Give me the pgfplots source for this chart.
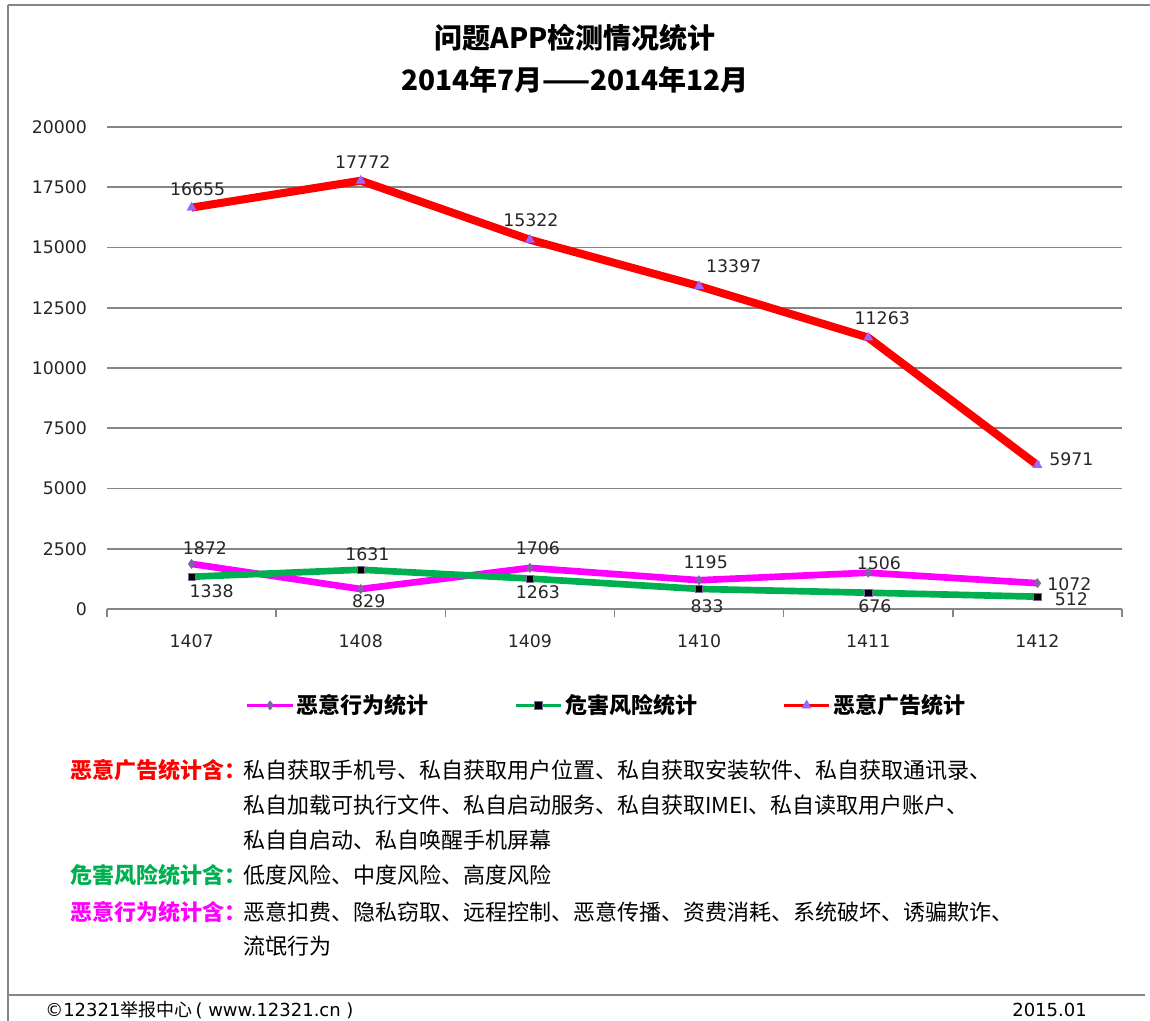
\documentclass[border=0pt]{standalone}
\usepackage{fontspec}
\usepackage{pgfplots}
\usepackage{pgfplotstable}
\pgfplotsset{compat=1.18}
\setmainfont{DejaVu Sans}
\newfontfamily\cjk{Noto Sans CJK SC}
\definecolor{gridgray}{RGB}{134,134,134}
\definecolor{mymag}{RGB}{255,0,255}
\definecolor{mygreen}{RGB}{0,176,80}
\definecolor{myred}{RGB}{255,0,0}
\definecolor{mkpurple}{RGB}{128,100,162}
\definecolor{tri}{RGB}{153,102,255}

\pgfplotstableread{
x y dx dy
0 1872 10 12
1 829 6 -9
2 1706 6 15
3 1195 5 13.5
4 1506 8 7.5
5 1072 24 -0.75
}\magdata
\pgfplotstableread{
x y dx dy
0 1338 15 -11
1 1631 5 12
2 1263 6 -10
3 833 6 -12.75
4 676 5 -10
5 512 25.5 -2.25
}\greendata
\pgfplotstableread{
x y dx dy
0 16655 4.5 13.5
1 17772 1.5 14.25
2 15322 0.75 15
3 13397 26 15
4 11263 10.5 14.25
5 5971 25.5 4.5
}\reddata

\newcommand\notefont{\cjk\fontsize{16.5pt}{20pt}\selectfont}
\newcommand\notelabfont{\cjk\bfseries\fontsize{16.5pt}{20pt}\selectfont}

\begin{document}
\begin{tikzpicture}
\useasboundingbox (0,0) rectangle (862.5pt,-765.75pt);
\begin{scope}[x=0.75pt,y=-0.75pt]
\draw[gridgray, line width=1.5pt] (8,5) -- (1150,5);
\draw[gridgray, line width=1.5pt] (8,5) -- (8,1021);
\draw[gridgray, line width=1.5pt] (8,995) -- (1145,995);
\node[font=\cjk\bfseries\fontsize{21pt}{24pt}\selectfont] at (575,38) {问题APP检测情况统计};
\node[font=\cjk\bfseries\fontsize{21pt}{24pt}\selectfont] at (575,80) {2014年7月——2014年12月};
\begin{scope}[every node/.style={anchor=base west, inner sep=0pt}]
\node[text=myred, font=\notelabfont] at (70,778) {恶意广告统计含：};
\node[font=\notefont] at (243,778) {私自获取手机号、私自获取用户位置、私自获取安装软件、私自获取通讯录、};
\node[font=\notefont] at (243,813) {私自加载可执行文件、私自启动服务、私自获取IMEI、私自读取用户账户、};
\node[font=\notefont] at (243,848) {私自自启动、私自唤醒手机屏幕};
\node[text=mygreen, font=\notelabfont] at (70,883) {危害风险统计含：};
\node[font=\notefont] at (243,883) {低度风险、中度风险、高度风险};
\node[text=mymag, font=\notelabfont] at (70,920) {恶意行为统计含：};
\node[font=\notefont] at (243,920) {恶意扣费、隐私窃取、远程控制、恶意传播、资费消耗、系统破坏、诱骗欺诈、};
\node[font=\notefont] at (243,954) {流氓行为};
\node[font=\fontsize{13.5pt}{15pt}\selectfont] at (45,1016) {©12321{\cjk 举报中心}\,( www.12321.cn )};
\node[anchor=base east, font=\fontsize{13.5pt}{15pt}\selectfont] at (1087,1016) {2015.01};
\end{scope}
\end{scope}
\begin{axis}[at={(80.25pt,-456.75pt)}, anchor=south west, scale only axis,
  width=761.25pt, height=361.5pt,
  xmin=-0.5, xmax=5.5, ymin=0, ymax=20000, clip=false,
  scaled y ticks=false,
  axis x line*=bottom, axis y line*=left,
  axis line style={-},
  y axis line style={draw=none},
  x axis line style={gridgray, line width=1.5pt},
  xtick={0,...,5}, xticklabels={1407,1408,1409,1410,1411,1412},
  minor xtick={-0.5,0.5,1.5,2.5,3.5,4.5,5.5},
  major tick length=0pt, minor tick length=6pt,
  tick align=outside,
  minor tick style={gridgray, line width=1.2pt},
  ytick={0,2500,...,20000},
  ymajorgrids, major grid style={gridgray, line width=1.2pt},
  tick label style={font=\fontsize{13pt}{15pt}\selectfont, text=black!85},
  /pgf/number format/assume math mode=true,
  /pgf/number format/1000 sep={},
  yticklabel style={xshift=-11.5pt},
  xticklabel style={yshift=-15.75pt},
  legend columns=3,
  legend style={at={(0.5,-0.2)}, anchor=center, xshift=-5.6pt, draw=none, fill=none,
    font=\cjk\bfseries\fontsize{16.5pt}{20pt}\selectfont,
    /tikz/every even column/.append style={column sep=62pt}},
  legend image code/.code={\draw[#1, line width=2.2pt] (0pt,0pt) -- (34pt,0pt);
    \draw[#1] plot coordinates {(17pt,0pt)};},
  nodes near coords, point meta=y,
  visualization depends on={\thisrow{dx}\as\dx},
  visualization depends on={\thisrow{dy}\as\dy},
  nodes near coords style={anchor=center, xshift=\dx pt, yshift=\dy pt, text=black!85,
    font=\fontsize{13pt}{15pt}\selectfont, inner sep=0pt},
]
\addplot[mymag, line width=5pt, mark=diamond*, mark size=3.5pt,
  mark options={fill=mkpurple, draw=mkpurple, line width=0.3pt}] table {\magdata};
\addlegendentry{恶意行为统计}
\addplot[mygreen, line width=5pt, mark=square*, mark size=2.8pt,
  mark options={fill=black, draw=mkpurple, line width=0.5pt}] table {\greendata};
\addlegendentry{危害风险统计}
\addplot[myred, line width=6pt, mark=triangle*, mark size=4pt,
  mark options={fill=tri, draw=tri, line width=0.3pt}] table {\reddata};
\addlegendentry{恶意广告统计}
\end{axis}
\end{tikzpicture}
\end{document}
